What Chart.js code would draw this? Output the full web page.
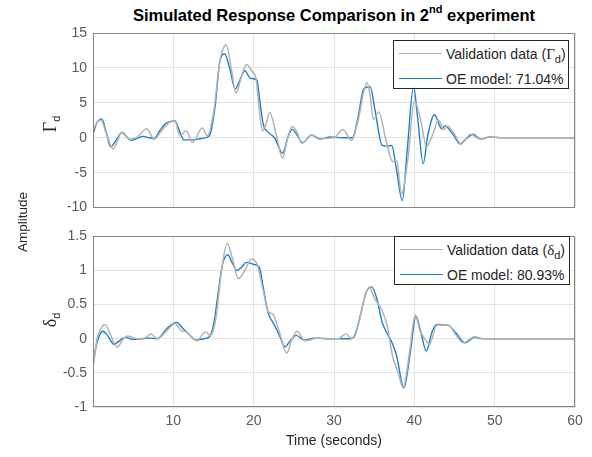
<!DOCTYPE html>
<html>
<head>
<meta charset="utf-8">
<script src="https://cdn.jsdelivr.net/npm/chart.js@4.4.0/dist/chart.umd.min.js"></script>
<style>
  body { margin: 0; background: #fff; }
  #fig { position: relative; width: 592px; height: 457px; font-family: "Liberation Sans", Arial, sans-serif; overflow: hidden; }
  canvas { position: absolute; left: 0; }
  .title { position: absolute; left: 83px; width: 502px; top: 4px; text-align: center; font-weight: bold; font-size: 16.5px; color: #000; }
  .title sup { font-size: 11px; position: relative; top: -1px; }
  .ylab { position: absolute; transform: translate(-50%, -50%) rotate(-90deg); white-space: nowrap; color: #262626; font-size: 13.5px; }
  .greek { font-family: "Liberation Serif", "DejaVu Serif", serif; font-size: 18px; }
  .ylab sub, .legend sub { font-family: "Liberation Sans", Arial, sans-serif; font-size: 11px; }
  .legend { position: absolute; width: 174px; height: 47px; border: 1px solid #262626; background: #fff; font-size: 14px; color: #262626; }
  .legend .row { position: absolute; left: 0; height: 18px; }
  .legend .smp { position: absolute; left: 5px; width: 43px; top: 8px; height: 0; }
  .legend .txt { position: absolute; left: 52px; top: 0; white-space: nowrap; line-height: 18px; }
  .legend .txt .greek { font-size: 15px; }
</style>
</head>
<body>
<div id="fig">
  <div class="title">Simulated Response Comparison in 2<sup>nd</sup> experiment</div>
  <canvas id="cTop" width="592" height="222" style="top:0"></canvas>
  <canvas id="cBot" width="592" height="235" style="top:222px"></canvas>

  <div class="ylab" style="left:22px; top:222px;">Amplitude</div>
  <div class="ylab" style="left:51px; top:124px;"><span class="greek">Γ</span><sub>d</sub></div>
  <div class="ylab" style="left:51px; top:320px;"><span class="greek">δ</span><sub>d</sub></div>

  <div class="legend" style="left:393px; top:40px;">
    <div class="row" style="top:4px"><div class="smp" style="border-top:1.5px solid #b3b3b3"></div><div class="txt">Validation data (<span class="greek">Γ</span><sub>d</sub>)</div></div>
    <div class="row" style="top:29px"><div class="smp" style="border-top:1.5px solid #1f80c6"></div><div class="txt">OE model: 71.04%</div></div>
  </div>
  <div class="legend" style="left:394px; top:236px;">
    <div class="row" style="top:4px"><div class="smp" style="border-top:1.5px solid #b3b3b3"></div><div class="txt">Validation data (<span class="greek">δ</span><sub>d</sub>)</div></div>
    <div class="row" style="top:29px"><div class="smp" style="border-top:1.5px solid #1f80c6"></div><div class="txt">OE model: 80.93%</div></div>
  </div>
</div>

<script>
// ---- data ----
const xTicks     = [10, 20, 30, 40, 50, 60];
const gammaTicks = [-10, -5, 0, 5, 10, 15];
const deltaTicks = [-1, -0.5, 0, 0.5, 1, 1.5];

// Γd validation data (gray)
const gammaValT = [0, 0.5, 1.0, 1.6, 2.5, 3.6, 4.6, 5.5, 6.7, 7.6, 8.4, 9.5, 10.2, 10.8, 11.6, 12.4, 13.6, 14.2, 15.0, 15.8, 16.6, 17.2, 17.8, 18.5, 19.1, 19.8, 20.3, 20.7, 21.1, 21.5, 22.0, 22.8, 23.6, 24.2, 24.8, 25.4, 26.0, 27.2, 28.3, 30.0, 31.1, 32.2, 33.0, 34.1, 34.5, 34.9, 35.6, 36.4, 37.3, 37.8, 38.4, 39.2, 40.0, 40.8, 41.5, 42.3, 43.0, 43.7, 44.1, 45.0, 45.8, 47.0, 48.2, 49.4, 51, 60];
const gammaVal  = [1.0, 2.2, 2.5, 0.8, -1.6, 0.8, -0.2, 0.1, 1.3, -0.2, 0.8, 2.2, 2.4, 0.3, 1.0, -0.7, 1.4, 0.3, 3.5, 11.0, 13.3, 10.0, 6.4, 8.8, 10.5, 9.5, 8.4, 4.0, 1.0, 1.8, 3.6, 0.5, -2.9, -0.2, 1.6, 0.8, -0.8, 0.4, -0.1, 0.0, 1.2, -0.4, 2.5, 7.9, 6.0, 2.6, 3.7, 0.0, -3.4, -3.3, -8.0, -3.0, 5.3, 2.5, -1.3, 0.5, 2.5, 1.2, 1.7, 0.5, -0.9, 0.5, -0.2, 0.1, 0.0, 0.0];

// Γd OE model (blue)
const gammaOeT = [0, 0.5, 1.1, 1.6, 2.2, 2.9, 3.6, 4.7, 5.5, 6.2, 7.0, 7.6, 8.3, 9.0, 10.2, 10.7, 11.3, 12.5, 13.5, 14.5, 15.2, 15.8, 16.4, 17.0, 17.7, 18.3, 18.9, 19.6, 20.4, 20.8, 21.2, 21.8, 22.6, 23.6, 24.3, 24.8, 25.4, 26.1, 27.2, 28.3, 29.5, 31.0, 32.3, 33.0, 33.7, 34.5, 35.1, 36.0, 36.6, 37.2, 37.7, 38.5, 39.1, 39.9, 40.4, 41.1, 41.7, 42.5, 43.4, 43.8, 44.8, 45.7, 46.4, 47.3, 48.3, 49.4, 51, 55, 60];
const gammaOe  = [0.5, 2.2, 2.7, 1.0, -1.3, -0.3, 0.75, -0.35, -0.1, 0.2, 0.0, -0.1, 1.0, 2.0, 2.4, 1.2, -0.3, -0.3, -0.1, 0.3, 4.5, 11.0, 12.0, 10.0, 7.0, 8.3, 9.6, 8.5, 8.3, 5.0, 1.9, 0.8, 0.0, -2.2, 0.2, 1.2, 0.4, -0.7, 0.4, -0.2, 0.1, 0.0, 0.0, 3.0, 7.0, 7.3, 4.0, -1.1, -1.2, -1.1, -4.0, -9.0, -2.0, 7.3, 3.0, -3.7, 0.5, 3.3, 1.3, 1.7, 0.5, -0.9, -0.2, 0.5, -0.2, 0.1, 0.0, 0.0, 0.0];

// δd validation data (gray)
const deltaValT = [0, 0.5, 1.0, 1.5, 2.2, 3.0, 3.8, 4.3, 5.5, 6.5, 7.2, 8.0, 9.2, 10.2, 11.0, 11.6, 12.9, 14.0, 14.6, 15.3, 16.0, 16.7, 17.3, 18.1, 18.9, 19.7, 20.4, 21.2, 21.8, 22.4, 23.2, 24.1, 24.8, 25.4, 26.4, 28, 30.5, 31.5, 32.2, 33.0, 33.8, 34.4, 35.0, 36.0, 36.6, 37.3, 38.0, 38.6, 39.4, 40.1, 40.7, 41.3, 41.9, 42.8, 44.2, 45.2, 46.1, 47.5, 48.6, 50, 60];
const deltaVal  = [-0.45, 0.0, 0.15, 0.21, 0.05, -0.12, 0.0, 0.04, 0.0, 0.01, 0.07, 0.0, 0.12, 0.22, 0.12, 0.1, -0.03, 0.1, 0.05, 0.3, 1.0, 1.4, 1.2, 0.88, 1.0, 1.17, 1.1, 0.7, 0.4, 0.36, 0.1, -0.21, 0.0, 0.11, -0.03, 0.01, 0.0, 0.07, 0.0, 0.2, 0.6, 0.76, 0.6, 0.41, 0.2, -0.26, -0.5, -0.72, -0.2, 0.35, 0.12, 0.0, -0.08, 0.2, 0.2, 0.05, -0.06, 0.03, 0.0, 0.0, 0.0];

// δd OE model (blue)
const deltaOeT = [0, 0.4, 0.8, 1.2, 1.8, 2.6, 3.4, 4.0, 5.0, 6.0, 7.0, 8.0, 9.2, 10.4, 11.2, 12.0, 12.8, 13.8, 14.5, 15.0, 15.5, 16.1, 16.8, 17.3, 17.9, 18.5, 19.1, 20.0, 20.7, 21.2, 21.8, 22.5, 23.2, 23.9, 24.6, 25.3, 26.3, 27.5, 29, 32.0, 32.6, 33.4, 34.0, 34.7, 35.3, 36.0, 36.6, 37.2, 37.8, 38.7, 39.5, 40.2, 40.8, 41.5, 42.2, 42.8, 44.2, 45.2, 46.3, 47.5, 48.5, 50, 60];
const deltaOe  = [-0.37, -0.1, 0.05, 0.11, 0.05, -0.08, -0.02, 0.02, -0.01, 0.0, 0.01, 0.0, 0.15, 0.24, 0.15, 0.06, -0.02, 0.0, 0.03, 0.2, 0.6, 1.08, 1.23, 1.12, 1.0, 1.05, 1.12, 1.09, 1.05, 0.75, 0.38, 0.22, 0.05, -0.12, -0.02, 0.05, -0.02, 0.01, 0.0, 0.0, 0.05, 0.4, 0.68, 0.76, 0.6, 0.24, 0.08, -0.05, -0.25, -0.72, -0.2, 0.33, 0.1, -0.18, 0.1, 0.21, 0.2, 0.08, -0.06, 0.02, 0.0, 0.0, 0.0];

const pts = (t, v) => t.map((x, i) => ({ x, y: v[i] }));

// draws the full axes box like MATLAB's "box on"
const boxPlugin = {
  id: 'box',
  afterDatasetsDraw(chart) {
    const a = chart.chartArea, c = chart.ctx;
    c.save();
    c.strokeStyle = '#858585';
    c.lineWidth = 1;
    c.strokeRect(Math.round(a.left) + 0.5, Math.round(a.top) + 0.5, Math.round(a.right - a.left) - 1, Math.round(a.bottom - a.top) - 1);
    c.restore();
  }
};

const tickFont = { family: "'Liberation Sans', Arial, sans-serif", size: 14 };

function makeChart(id, valT, val, oeT, oe, yMin, yMax, yTicks, bottom) {
  return new Chart(document.getElementById(id), {
    type: 'line',
    data: {
      datasets: [
        { data: pts(valT, val), borderColor: '#b3b3b3', borderWidth: 1.5 },
        { data: pts(oeT, oe),   borderColor: '#1f80c6', borderWidth: 1.4 }
      ]
    },
    options: {
      responsive: false,
      animation: false,
      devicePixelRatio: 1,
      layout: { padding: bottom ? { top: 9, right: 17, left: 0, bottom: 0 } : { top: 33, right: 17, left: 0, bottom: 0 } },
      elements: { point: { radius: 0 }, line: { tension: 0.4, cubicInterpolationMode: 'monotone' } },
      plugins: { legend: { display: false }, tooltip: { enabled: false } },
      scales: {
        x: {
          type: 'linear', min: 0, max: 60,
          afterBuildTicks: s => { s.ticks = xTicks.map(v => ({ value: v })); },
          afterFit: s => { s.height = bottom ? 50 : 10; },
          grid: { color: '#e3e3e3', drawTicks: false },
          border: { display: false },
          ticks: { display: bottom, padding: 6, color: '#5a5a5a', font: tickFont, maxRotation: 0, callback: v => String(v) },
          title: { display: bottom, text: 'Time (seconds)', color: '#262626', font: tickFont, padding: { top: 0, bottom: 7 } }
        },
        y: {
          min: yMin, max: yMax,
          afterBuildTicks: s => { s.ticks = yTicks.map(v => ({ value: v })); },
          afterFit: s => { s.width = 93; },
          grid: { color: '#e3e3e3', drawTicks: false },
          border: { display: false },
          ticks: { padding: 6, color: '#5a5a5a', font: tickFont, callback: v => String(v) }
        }
      }
    },
    plugins: [boxPlugin]
  });
}

makeChart('cTop', gammaValT, gammaVal, gammaOeT, gammaOe, -10, 15, gammaTicks, false);
makeChart('cBot', deltaValT, deltaVal, deltaOeT, deltaOe, -1, 1.5, deltaTicks, true);
</script>
</body>
</html>
